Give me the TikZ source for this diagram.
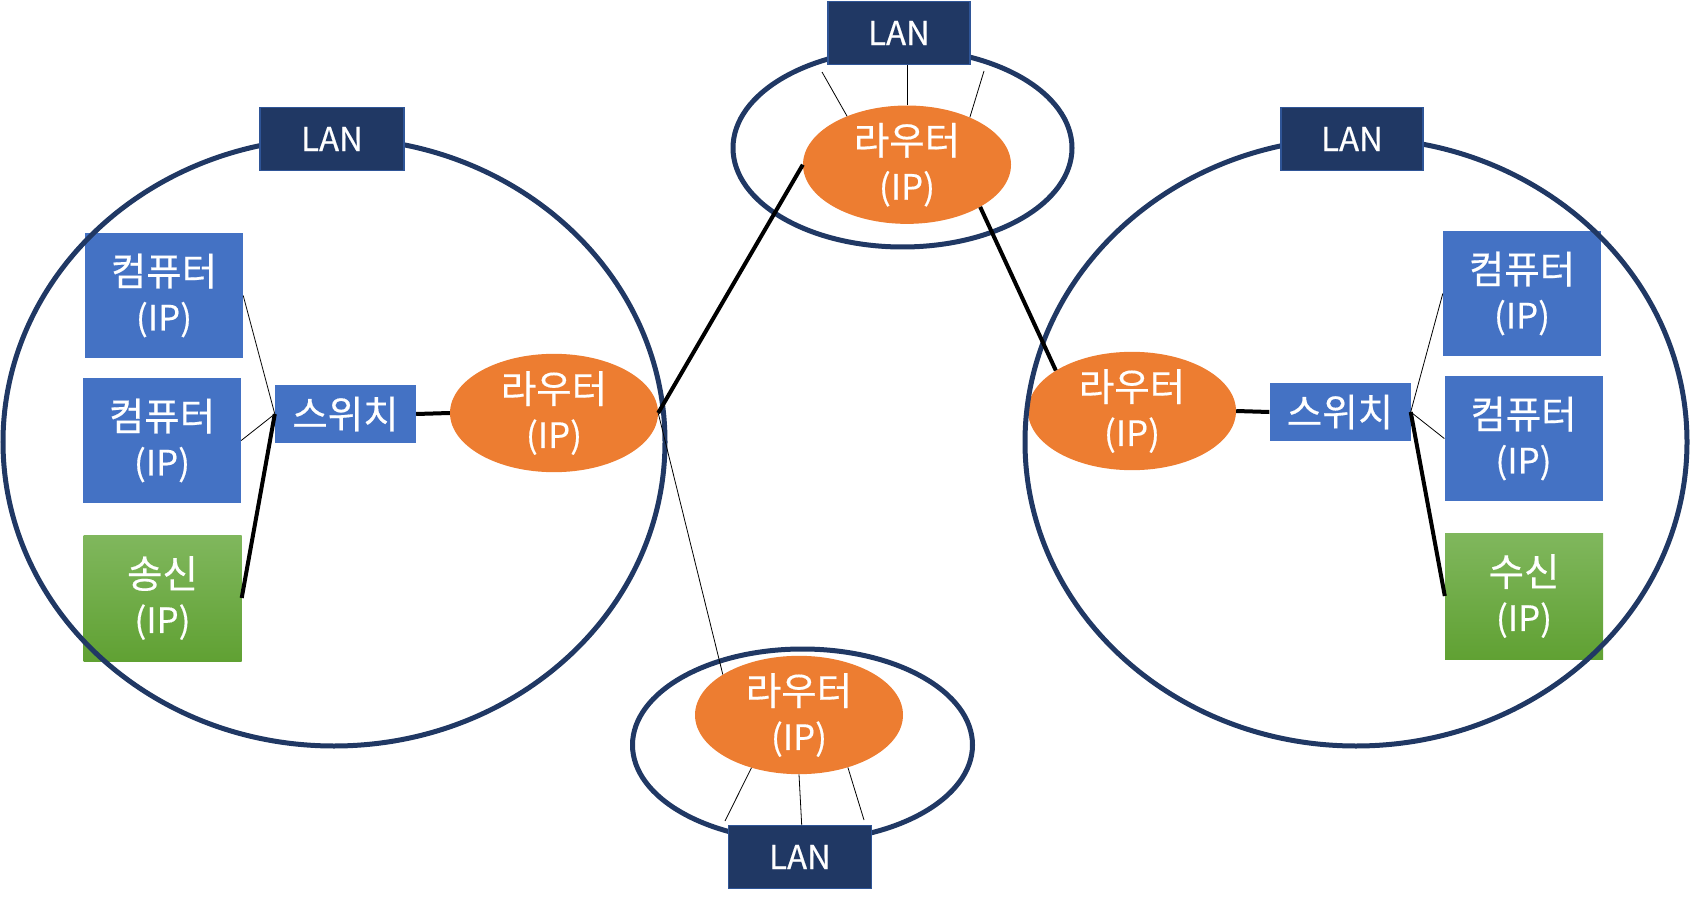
\documentclass[tikz,border=0pt]{standalone}
\usepackage{fontspec}
\newfontfamily\kr{Noto Sans CJK KR}[FakeBold=0.4]
\usetikzlibrary{shapes.geometric}
\definecolor{pcblue}{HTML}{4472C4}
\definecolor{rorange}{HTML}{ED7D31}
\definecolor{lanfill}{HTML}{203864}
\definecolor{lanborder}{HTML}{2F5597}
\definecolor{ringcol}{HTML}{203864}
\definecolor{grtop}{HTML}{80B75D}
\definecolor{grbot}{HTML}{60A133}
\newcommand\hangul[1]{{\fontsize{38.5}{45}\selectfont #1}}
\tikzset{
  lbl/.style={text=white, align=center, inner sep=0pt, font=\kr\fontsize{35}{45}\selectfont},
  pc/.style={lbl, rectangle, fill=pcblue, minimum width=158pt, minimum height=125pt},
  host/.style={lbl, rectangle, top color=grtop, bottom color=grbot, draw=none, minimum width=158pt, minimum height=126pt},
  switchbox/.style={lbl, rectangle, fill=pcblue, minimum width=141pt, minimum height=58pt},
  router/.style={lbl, ellipse, fill=rorange, minimum width=208pt, minimum height=112pt},
  lanbox/.style={lbl, rectangle, fill=lanfill, draw=lanborder, line width=1.5pt, minimum width=142pt, minimum height=63pt, font=\kr\fontsize{33}{40}\selectfont},
  ring/.style={draw=ringcol, line width=5pt},
  heavy/.style={draw=black, line width=4pt},
  light/.style={draw=black, line width=0.8pt}
}
\begin{document}
\begin{tikzpicture}[x=1pt,y=-1pt]
\useasboundingbox (0,0) rectangle (1690,904);
% left LAN
\node[pc] (compL1) at (164,295.5) {\hangul{컴퓨터}\\(IP)};
\node[pc] (compL2) at (162,440.5) {\hangul{컴퓨터}\\(IP)};
\node[host] (sendL) at (162.5,598) {\hangul{송신}\\(IP)};
\node[switchbox] (swL) at (345.5,414) {\hangul{스위치}};
\node[router] (rL) at (554,413) {\hangul{라우터}\\(IP)};
% right LAN
\node[pc] (compR1) at (1522,293.5) {\hangul{컴퓨터}\\(IP)};
\node[pc] (compR2) at (1523.5,438.5) {\hangul{컴퓨터}\\(IP)};
\node[host] (recvR) at (1524,596) {\hangul{수신}\\(IP)};
\node[switchbox] (swR) at (1340,412) {\hangul{스위치}};
\node[router] (rR) at (1132,411) {\hangul{라우터}\\(IP)};
% top and bottom routers
\node[router] (rT) at (907,164.7) {\hangul{라우터}\\(IP)};
\node[router] (rB) at (799,715) {\hangul{라우터}\\(IP)};
% rings
\draw[ring] (334,442) ellipse [x radius=331pt, y radius=304pt];
\draw[ring] (1356,442) ellipse [x radius=331pt, y radius=304pt];
\draw[ring] (902.5,148) ellipse [x radius=169.5pt, y radius=99pt];
\draw[ring] (802.5,745) ellipse [x radius=170pt, y radius=96pt];
% LAN labels
\node[lanbox, minimum width=144pt] (lanL) at (332,139) {LAN};
\node[lanbox] (lanR) at (1352,139) {LAN};
\node[lanbox] (lanT) at (899,33) {LAN};
\node[lanbox, minimum width=143pt] (lanB) at (800,857) {LAN};
% free ends of the short LAN links
\coordinate (tA) at (822,72);
\coordinate (tB) at (907,65);
\coordinate (tC) at (984,71);
\coordinate (bA) at (725,821);
\coordinate (bB) at (801.7,825);
\coordinate (bC) at (864,820);
% connectors left
\draw[light] (compL1.east) -- (swL.west);
\draw[light] (compL2.east) -- (swL.west);
\draw[heavy] (sendL.east) -- (swL.west);
\draw[heavy] (swL.east) -- (rL.west);
\draw[heavy] (rL.east) -- (rT.west);
\draw[light] (rL.east) -- (rB.152);
% connectors right
\draw[heavy] (rT.-30) -- (rR.152.6);
\draw[heavy] (rR.east) -- (swR.west);
\draw[light] (swR.east) -- (compR1.west);
\draw[light] (swR.east) -- (compR2.west);
\draw[heavy] (swR.east) -- (recvR.west);
% LAN links
\draw[light] (rT.141.5) -- (tA);
\draw[light] (rT.north) -- (tB);
\draw[light] (rT.37.9) -- (tC);
\draw[light] (rB.228) -- (bA);
\draw[light] (rB.south) -- (bB);
\draw[light] (rB.313) -- (bC);
\end{tikzpicture}
\end{document}
